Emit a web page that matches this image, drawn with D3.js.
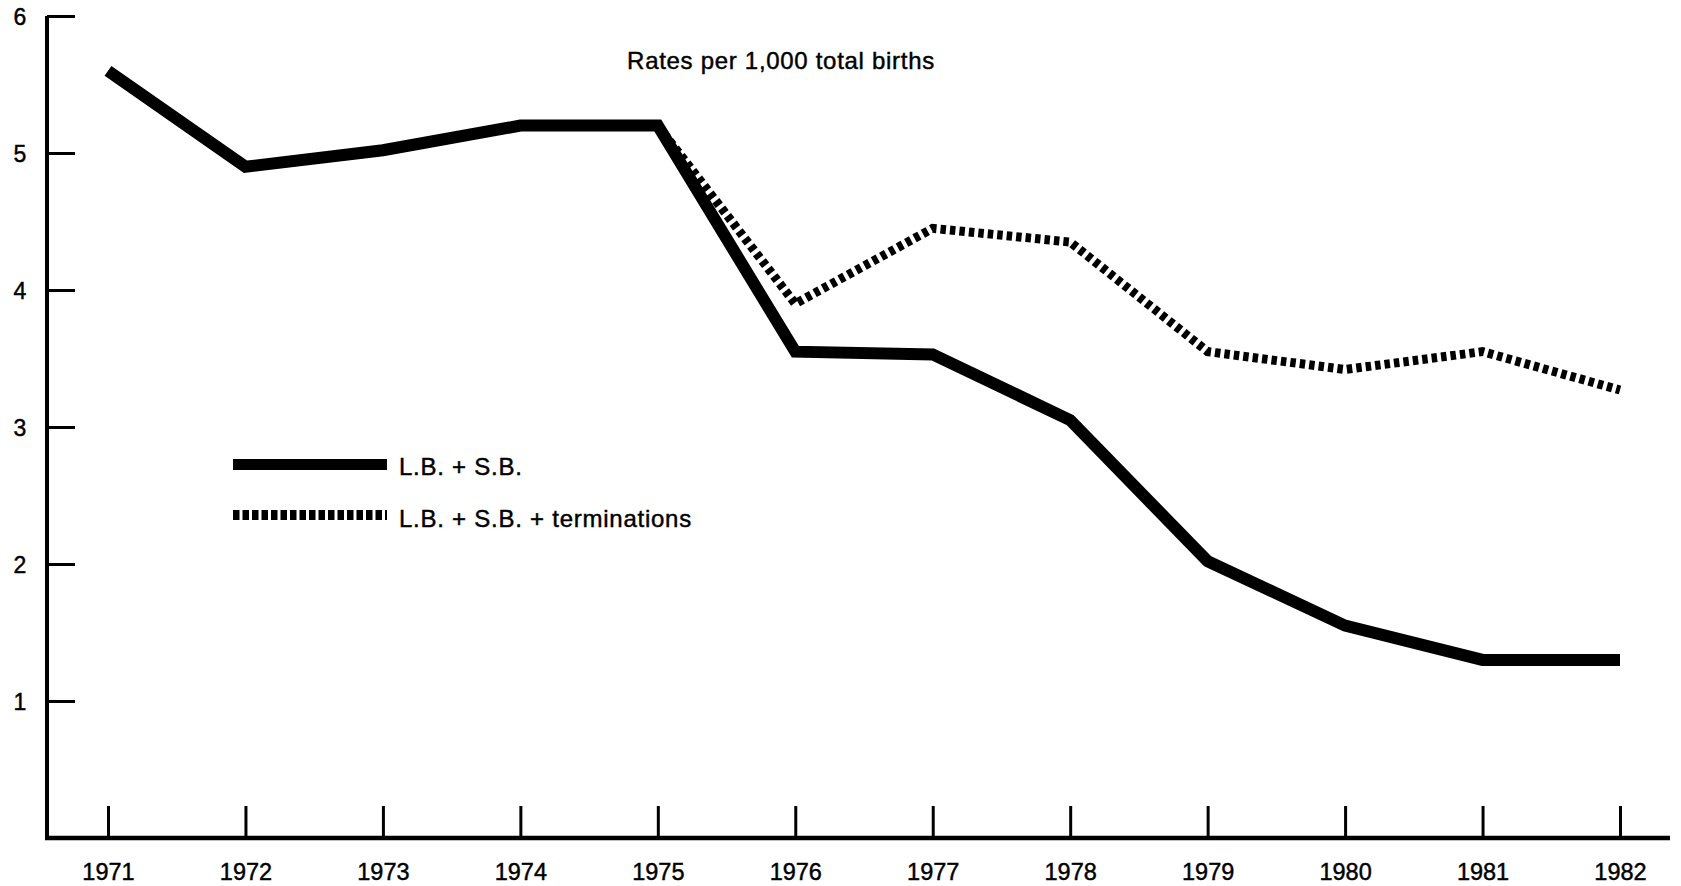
<!DOCTYPE html>
<html>
<head>
<meta charset="utf-8">
<script src="https://cdn.jsdelivr.net/npm/d3@7"></script>
<style>
  html, body { margin: 0; padding: 0; background: #fff; }
  svg { display: block; }
  text { font-family: "Liberation Sans", Arial, Helvetica, sans-serif; fill: #000; stroke: #000; stroke-width: 0.45px; }
</style>
</head>
<body>
<svg id="chart" width="1681" height="886"></svg>
<script>
// Years on the horizontal axis
const years = [1971, 1972, 1973, 1974, 1975, 1976, 1977, 1978, 1979, 1980, 1981, 1982];

// Live births + stillbirths, rate per 1,000 total births
const lbsbRates = [5.6, 4.9, 5.02, 5.2, 5.2, 3.55, 3.53, 3.05, 2.02, 1.55, 1.3, 1.3];

// Live births + stillbirths + terminations (recorded from 1975 onwards)
const termYears = [1975, 1976, 1977, 1978, 1979, 1980, 1981, 1982];
const termRates = [5.2, 3.9, 4.45, 4.35, 3.55, 3.42, 3.55, 3.27];

// Axis tick values
const yTicks = [1, 2, 3, 4, 5, 6];

const title = "Rates per 1,000 total births";
const legendLabels = ["L.B. + S.B.", "L.B. + S.B. + terminations"];

const svg = d3.select("#chart");

const axisX0 = 47, axisX1 = 1670;   // extent of the horizontal axis line
const x = d3.scaleLinear().domain([1971, 1982]).range([108, 1620]);
const y = d3.scaleLinear().domain([0, 6]).range([838, 16]);

// Y axis: ticks pointing into the plot, labels to the left
const yAxis = d3.axisLeft(y).tickValues(yTicks).tickSizeInner(-28).tickSizeOuter(0)
  .tickFormat(d3.format("d"));
const gy = svg.append("g").attr("transform", `translate(${axisX0},0)`).call(yAxis);
gy.select(".domain").remove();
gy.selectAll(".tick line").attr("stroke", "#000").attr("stroke-width", 3);
gy.selectAll(".tick text")
  .attr("x", -27).attr("dy", "0.36em")
  .attr("text-anchor", "middle")
  .style("font-size", "23px");

// X axis: short ticks rising from the baseline
const xAxis = d3.axisBottom(x).tickValues(years).tickSizeInner(-32).tickSizeOuter(0)
  .tickPadding(0).tickFormat(d3.format("d"));
const gx = svg.append("g").attr("transform", `translate(0,${y(0)})`).call(xAxis);
gx.select(".domain").remove();
gx.selectAll(".tick line").attr("stroke", "#000").attr("stroke-width", 3);
gx.selectAll(".tick text")
  .attr("y", 42).attr("dy", null)
  .attr("text-anchor", "middle")
  .style("font-size", "23.5px");

// Axis lines
svg.append("line")
  .attr("x1", axisX0).attr("x2", axisX0).attr("y1", y(6)).attr("y2", y(0) + 2)
  .attr("stroke", "#000").attr("stroke-width", 4);
svg.append("line")
  .attr("x1", axisX0 - 2).attr("x2", axisX1).attr("y1", y(0)).attr("y2", y(0))
  .attr("stroke", "#000").attr("stroke-width", 4.5);

const line = d3.line().x(d => x(d[0])).y(d => y(d[1]));

// Terminations series (dotted), drawn first so the solid line sits above it
svg.append("path")
  .datum(termYears.map((yr, i) => [yr, termRates[i]]))
  .attr("d", line)
  .attr("fill", "none")
  .attr("stroke", "#000")
  .attr("stroke-width", 9)
  .attr("stroke-dasharray", "5.5,4")
  .attr("stroke-linejoin", "miter");

// L.B. + S.B. series (solid)
svg.append("path")
  .datum(years.map((yr, i) => [yr, lbsbRates[i]]))
  .attr("d", line)
  .attr("fill", "none")
  .attr("stroke", "#000")
  .attr("stroke-width", 12)
  .attr("stroke-linejoin", "miter")
  .attr("stroke-linecap", "butt");

// Title
svg.append("text")
  .attr("x", 781).attr("y", 69)
  .attr("text-anchor", "middle")
  .style("font-size", "24px")
  .style("letter-spacing", "0.7px")
  .text(title);

// Legend
const legend = svg.append("g");
legend.append("line")
  .attr("x1", 233).attr("x2", 387).attr("y1", 464.5).attr("y2", 464.5)
  .attr("stroke", "#000").attr("stroke-width", 11);
legend.append("line")
  .attr("x1", 233).attr("x2", 387).attr("y1", 515).attr("y2", 515)
  .attr("stroke", "#000").attr("stroke-width", 10)
  .attr("stroke-dasharray", "6.5,3");
legend.append("text")
  .attr("x", 399).attr("y", 475)
  .style("font-size", "24px").style("letter-spacing", "0.75px")
  .text(legendLabels[0]);
legend.append("text")
  .attr("x", 399).attr("y", 526.5)
  .style("font-size", "24px").style("letter-spacing", "0.75px")
  .text(legendLabels[1]);
</script>
</body>
</html>
